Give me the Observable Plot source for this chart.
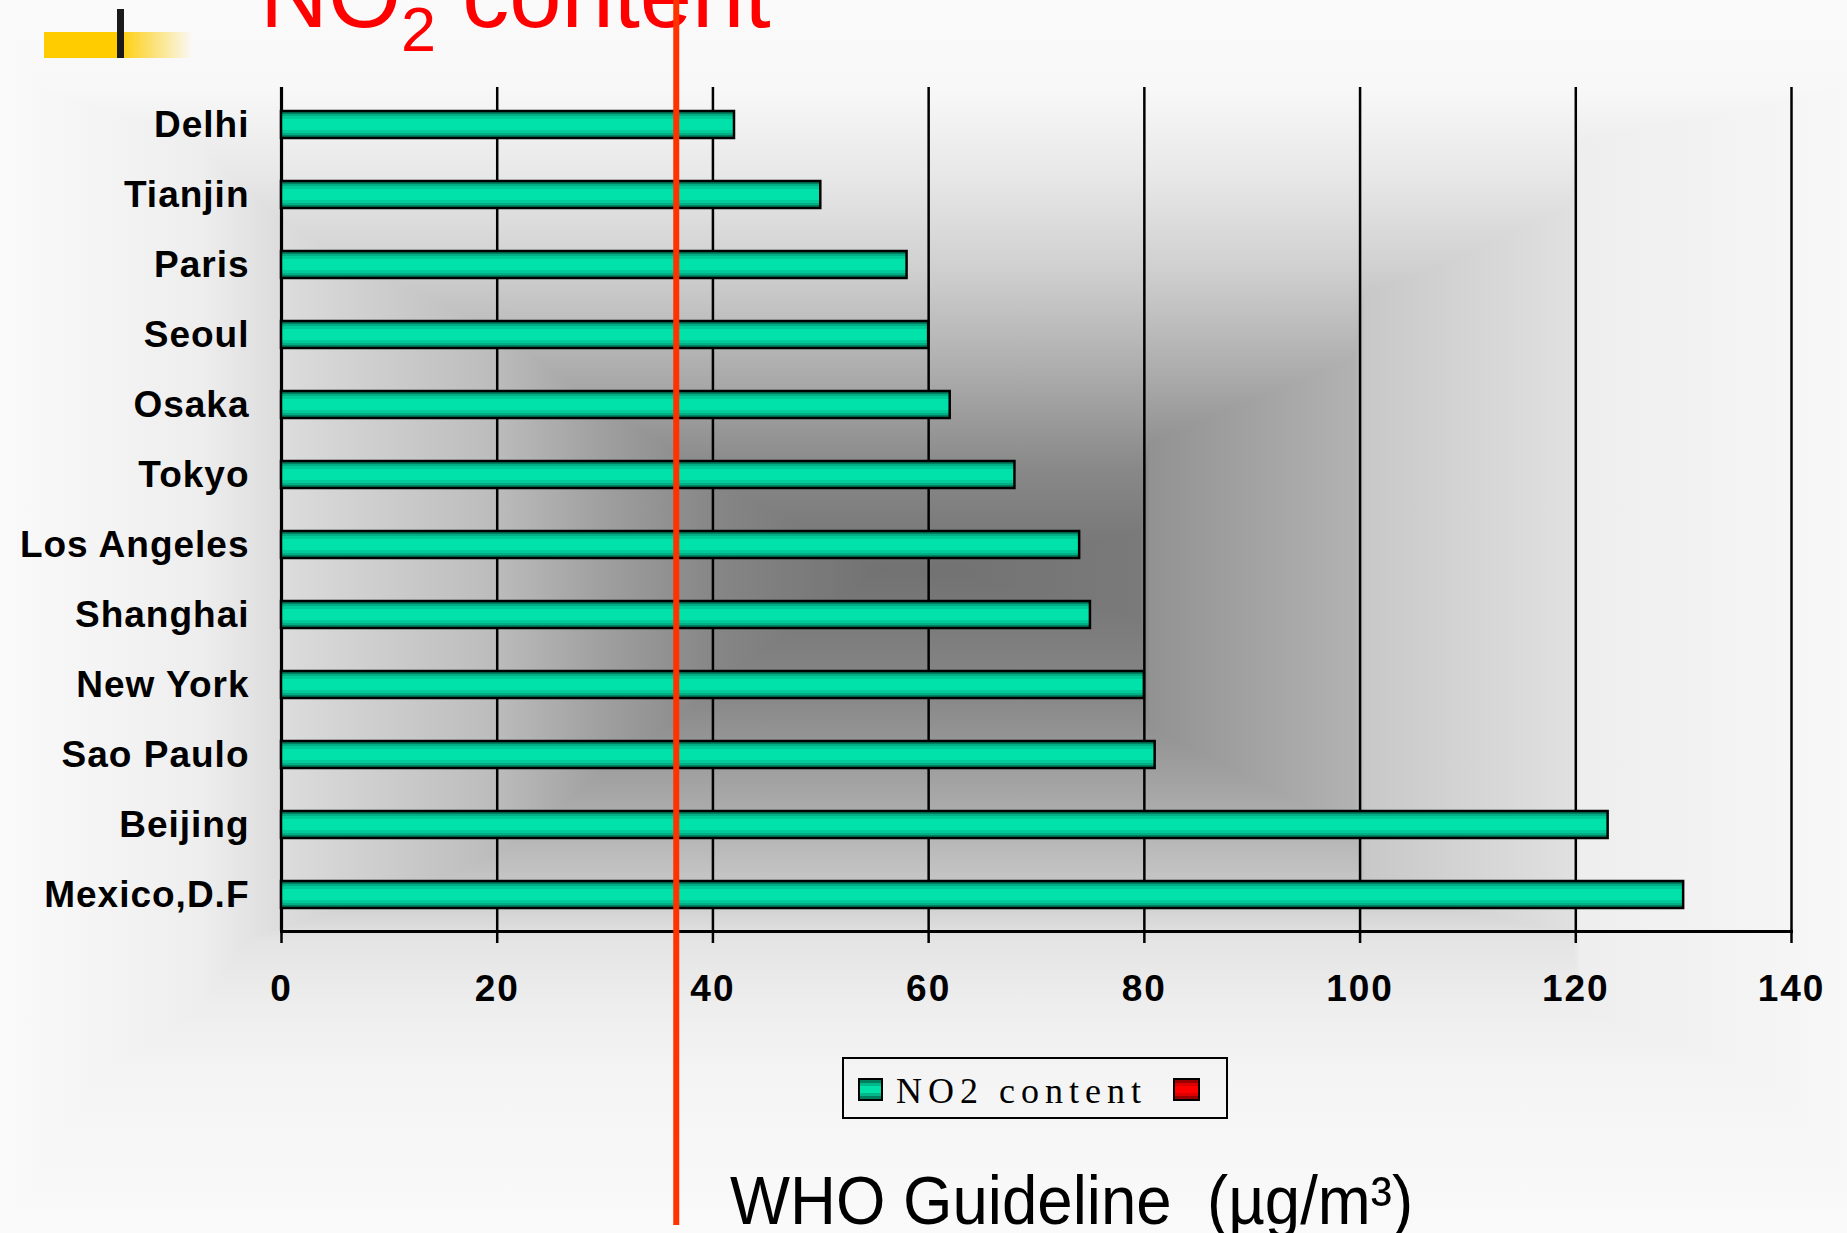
<!DOCTYPE html>
<html>
<head>
<meta charset="utf-8">
<script src="https://cdn.jsdelivr.net/npm/d3@7"></script>
<script src="https://cdn.jsdelivr.net/npm/@observablehq/plot@0.6"></script>
<style>
  html, body { margin: 0; padding: 0; }
  body {
    width: 1847px; height: 1233px; overflow: hidden; position: relative;
    font-family: "Liberation Sans", Arial, sans-serif;
    background-color: #000;
    background-image:
      linear-gradient(to right, #fafafa 0px, #eeeeee 200px, #dcdcdc 283px, #bcbcbc 495px, #a0a0a0 600px, #868686 715px, #727272 880px, #737373 960px, #7a7a7a 1140px, #929292 1150px, #b2b2b2 1355px, #c8c8c8 1365px, #e0e0e0 1570px, #eeeeee 1580px, #f5f5f5 1791px, #f8f8f8 1847px),
      linear-gradient(to bottom, #fafafa 0px, #f8f8f8 87px, #e8e8e8 174px, #d0d0d0 268px, #b0b0b0 362px, #888888 470px, #727272 570px, #888888 698px, #aaaaaa 805px, #cccccc 899px, #e4e4e4 940px, #eeeeee 1007px, #f4f4f4 1074px, #fafafa 1233px);
    background-blend-mode: lighten;
  }
  .abs { position: absolute; white-space: nowrap; }
  #chart { position: absolute; left: 0; top: 0; z-index: 5; pointer-events: none; }
  #chart svg { overflow: visible; }
  #chart [aria-label="y-axis tick label"] { letter-spacing: 1px; }
  #chart [aria-label="x-axis tick label"] { letter-spacing: 2px; }
  .swatch { position: absolute; box-sizing: border-box; border: 2px solid #000; }
</style>
</head>
<body>
<!-- decorative slide logo -->
<div class="abs" style="left:44px; top:32px; width:149px; height:26px; background: linear-gradient(to right, #ffcc00 0px, #ffcc00 73px, rgba(255,204,0,0) 149px);"></div>
<div class="abs" style="left:117px; top:9px; width:7px; height:49px; background:#1a1a1a;"></div>

<!-- title -->
<div id="title" class="abs" style="left:260px; top:-52px; font-size:94px; line-height:1; color:#ff0000;">NO<span style="font-size:63px; position:relative; top:24px;">2</span> content</div>

<!-- legend -->
<div id="legend" class="abs" style="left:842px; top:1057px; width:386px; height:62px; box-sizing:border-box; border:2px solid #000;"></div>
<div class="swatch" style="left:858px; top:1078px; width:25px; height:23px; background: linear-gradient(to bottom, #007f5f 0%, #007f5f 18%, #00b88a 18%, #00b88a 34%, #00e0a8 34%, #00e0a8 66%, #00b88a 66%, #00b88a 82%, #007f5f 82%);"></div>
<div id="legendText" class="abs" style="left:896px; top:1073px; font-family:'Liberation Serif','Times New Roman',serif; font-size:36px; letter-spacing:6px; line-height:1; color:#000;"></div>
<div class="swatch" style="left:1173px; top:1078px; width:27px; height:23px; background: linear-gradient(to bottom, #990000 0%, #990000 18%, #dd0000 18%, #dd0000 34%, #ff0000 34%, #ff0000 66%, #dd0000 66%, #dd0000 82%, #990000 82%);"></div>

<!-- bottom caption -->
<div id="caption" class="abs" style="left:730px; top:1166px; font-size:68px; line-height:1; color:#000; transform: scaleX(0.935); transform-origin: left top;"></div>

<div id="chart"></div>

<script>
// ---- data ----
const cities = ["Delhi", "Tianjin", "Paris", "Seoul", "Osaka", "Tokyo", "Los Angeles", "Shanghai", "New York", "Sao Paulo", "Beijing", "Mexico,D.F"];
const no2Values = [42, 50, 58, 60, 62, 68, 74, 75, 80, 81, 123, 130];
const xTicks = [0, 20, 40, 60, 80, 100, 120, 140];
const whoGuideline = 36.6; // position of the red guideline as drawn
const seriesName = "NO2 content";
const captionText = "WHO Guideline\u00a0\u00a0(\u00b5g/m\u00b3)";

const data = cities.map((city, i) => ({city, value: no2Values[i]}));

document.getElementById("legendText").textContent = seriesName;
document.getElementById("caption").textContent = captionText;

const chart = Plot.plot({
  width: 1847,
  height: 1233,
  marginLeft: 281,
  marginRight: 56,
  marginTop: 87,
  marginBottom: 302,
  style: {background: "transparent", color: "#000", fontFamily: "'Liberation Sans', Arial, sans-serif", overflow: "visible"},
  x: {domain: [0, 140], label: null},
  y: {domain: cities, label: null, paddingInner: 0.62, paddingOuter: 0.313},
  marks: [
    Plot.ruleX(xTicks, {stroke: "#000", strokeWidth: 2.5}),
    Plot.ruleX([0], {stroke: "#000", strokeWidth: 3.2}),
    Plot.frame({anchor: "bottom", stroke: "#000", strokeWidth: 3}),
    Plot.axisX({ticks: xTicks, tickSize: 12, tickPadding: 31, fontSize: 37, fontWeight: "bold", stroke: "#000", strokeWidth: 2.5, tickFormat: d => String(d), label: null}),
    Plot.axisY({tickSize: 0, tickPadding: 32, fontSize: 37, fontWeight: "bold", label: null}),
    Plot.barX(data, {y: "city", x: "value", fill: "url(#barGrad)", stroke: "#000", strokeWidth: 2.5}),
    Plot.ruleX([whoGuideline], {stroke: "#ff3300", strokeWidth: 6, insetTop: -87, insetBottom: -294})
  ]
});

// bar gradient (horizontal stripes like the original)
const svg = d3.select(chart);
const grad = svg.insert("defs", ":first-child").append("linearGradient")
  .attr("id", "barGrad").attr("x1", 0).attr("y1", 0).attr("x2", 0).attr("y2", 1);
[["0%", "#00805f"], ["10%", "#00805f"], ["10%", "#00ae86"], ["20%", "#00ae86"], ["20%", "#00cc9a"], ["30%", "#00cc9a"],
 ["30%", "#00e2aa"], ["70%", "#00e2aa"], ["70%", "#00cc9a"], ["80%", "#00cc9a"], ["80%", "#00ae86"], ["90%", "#00ae86"],
 ["90%", "#00805f"], ["100%", "#00805f"]].forEach(([o, c]) => grad.append("stop").attr("offset", o).attr("stop-color", c));

document.getElementById("chart").appendChild(chart);
</script>
</body>
</html>
